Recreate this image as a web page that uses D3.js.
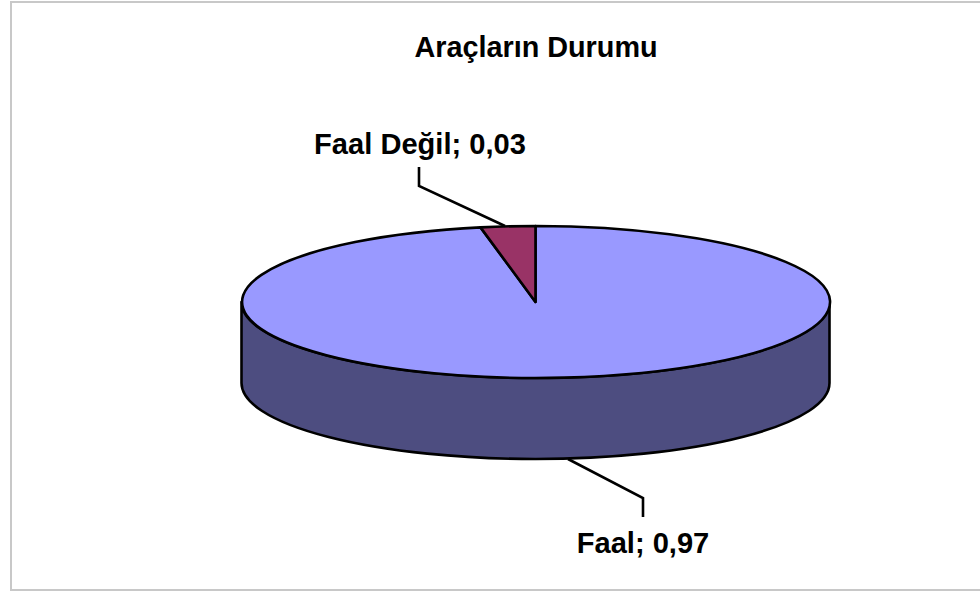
<!DOCTYPE html>
<html><head><meta charset="utf-8">
<script src="https://cdnjs.cloudflare.com/ajax/libs/d3/7.8.5/d3.min.js"></script>
<style>html,body{margin:0;padding:0;background:#fff}svg{display:block}text{font-family:"Liberation Sans",Arial,sans-serif;font-weight:bold;fill:#000}</style>
</head><body><svg id="c" width="980" height="591"></svg>
<script>
const chartTitle = "Araçların Durumu";
const categories = ["Faal", "Faal Değil"];
const values = [0.97, 0.03];
const topColors = ["#9999ff", "#993366"];
const sideColor = "#4d4d80";

const cx = 535.5, cy = 302, rx = 294, ry = 76, depth = 81, sw = 2.6;
const svg = d3.select("#c");

svg.append("path").attr("d", `M980,2H11V590H980`).attr("fill", "none").attr("stroke", "#c8c8c8").attr("stroke-width", 2);

svg.append("text").attr("x", 536).attr("y", 57).attr("text-anchor", "middle").attr("font-size", 28.8).text(chartTitle);

const pie = d3.pie().sort(null).value(d => d);
const arcs = pie(values);
const arc = d3.arc().innerRadius(0).outerRadius(1);

// wall
svg.append("path")
  .attr("d", `M${cx-rx},${cy}V${cy+depth}A${rx},${ry} 0 0 0 ${cx+rx},${cy+depth}V${cy}A${rx},${ry} 0 0 1 ${cx-rx},${cy}Z`)
  .attr("fill", sideColor).attr("stroke", "#000").attr("stroke-width", sw).attr("stroke-linejoin", "round");

// top slices
const topFace = svg.append("g").attr("transform", `translate(${cx},${cy}) scale(${rx},${ry})`);
topFace.selectAll("path").data(arcs).join("path")
  .attr("d", arc)
  .attr("fill", (d, i) => topColors[i])
  .attr("stroke", "#000").attr("stroke-width", sw)
  .attr("stroke-linejoin", "round")
  .attr("vector-effect", "non-scaling-stroke");

// leaders
const line = d3.line();
const leaderPts = [
  [[568, 459], [643, 498], [643, 517]],
  [[505, 226], [419, 186], [419, 167]]
];
svg.selectAll("path.leader").data(leaderPts).join("path").attr("class", "leader")
  .attr("d", line).attr("fill", "none").attr("stroke", "#000").attr("stroke-width", sw);

const labelPos = [[643, 553], [420, 154]];
svg.selectAll("text.lab").data(arcs).join("text").attr("class", "lab")
  .attr("x", (d, i) => labelPos[i][0]).attr("y", (d, i) => labelPos[i][1])
  .attr("text-anchor", "middle").attr("font-size", 29.1)
  .text((d, i) => `${categories[i]}; ${String(d.value).replace(".", ",")}`);
</script></body></html>
